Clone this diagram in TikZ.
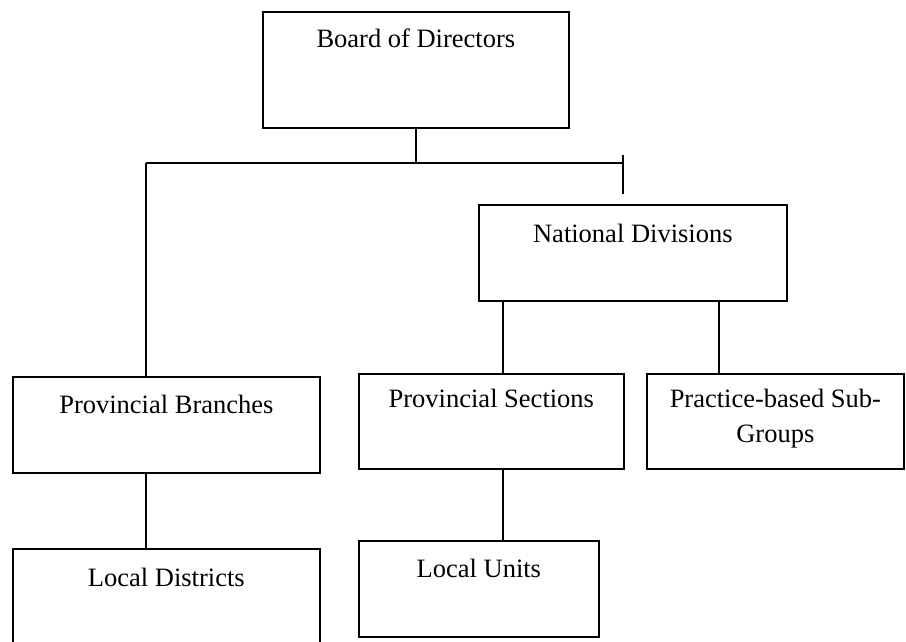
\documentclass[tikz,border=0pt]{standalone}
\usepackage{fontspec}
\setmainfont{Liberation Serif}
\begin{document}
\begin{tikzpicture}[
  x=1pt, y=-1pt,
  every node/.style={draw, line width=1.7pt, inner sep=0pt, anchor=north west, align=center, font=\fontsize{26.5}{32}\selectfont},
  link/.style={line width=1.7pt}
]
\useasboundingbox (0,0) rectangle (906,642);
\node (board) [minimum width=306, text height=36, text depth=80] at (262,11) {Board of Directors};
\node (divisions) [minimum width=308, text height=38, text depth=58] at (478,204) {National Divisions};
\node (branches) [minimum width=307, text height=37, text depth=59] at (12,376) {Provincial Branches};
\node (sections) [minimum width=265, text height=34, text depth=61] at (358,373) {Provincial Sections};
\node (subgroups) [minimum width=257, text height=34, text depth=61] at (646,373) {\begin{tabular}[t]{@{}c@{}}Practice-based Sub-\\[3pt]Groups\end{tabular}};
\node (districts) [minimum width=307, text height=38, text depth=62] at (12,548) {Local Districts};
\node (units) [minimum width=240, text height=37, text depth=59] at (358,540) {Local Units};
\coordinate (busL) at (146,163);
\coordinate (busR) at (623,163);
\coordinate (tickT) at (623,155);
\coordinate (tickB) at (623,194);
\draw[link] (board.south) -- (board.south |- busL);
\draw[link] (busL) -- (busR);
\draw[link] (tickT) -- (tickB);
\draw[link] (busL) -- (busL |- branches.north);
\draw[link] (branches.south -| busL) -- (districts.north -| busL);
\draw[link] ([xshift=25]divisions.south west) -- ([xshift=25]divisions.south west |- sections.north);
\draw[link] ([xshift=241]divisions.south west) -- ([xshift=241]divisions.south west |- subgroups.north);
\draw[link] ([xshift=145]sections.south west) -- ([xshift=145]sections.south west |- units.north);
\end{tikzpicture}
\end{document}
